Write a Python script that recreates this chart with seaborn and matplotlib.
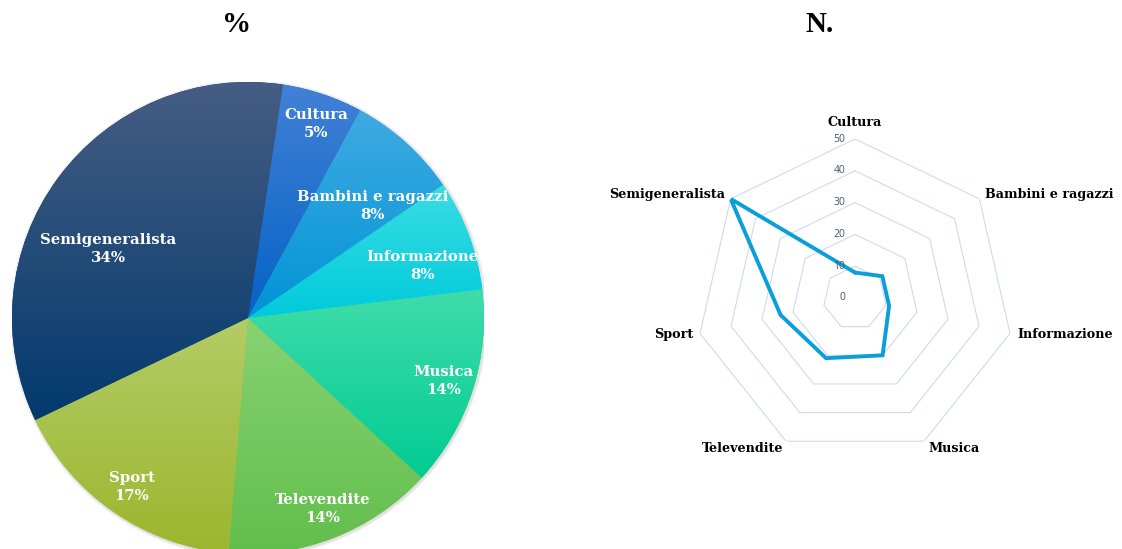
import matplotlib
matplotlib.use("Agg")
import matplotlib.pyplot as plt
import matplotlib.colors as mcolors
import numpy as np
import seaborn as sns

# data
categories = ["Cultura", "Bambini e ragazzi", "Informazione", "Musica",
              "Televendite", "Sport", "Semigeneralista"]
counts = [8, 11, 11, 20, 21, 24, 50]
pct_labels = ["5%", "8%", "8%", "14%", "14%", "17%", "34%"]
radar_ticks = [0, 10, 20, 30, 40, 50]

# gradient colours for each slice (top, bottom)
slice_colors = [("#4281d6", "#0462c6"),
                ("#40aae2", "#0094d6"),
                ("#3adde2", "#00cadc"),
                ("#40dcaa", "#00cc92"),
                ("#88d272", "#62be4c"),
                ("#b4cc66", "#9cb62e"),
                ("#465d84", "#023a6d")]

sns.set_theme(style="white")
plt.rcParams["font.family"] = ["DejaVu Serif", "DejaVu Sans"]
plt.rcParams["text.color"] = "black"

W, H = 1122, 549
fig = plt.figure(figsize=(W / 100, H / 100), dpi=100)

# ---------- pie ----------
cx, cy, R = 248, 318, 236
ax1 = fig.add_axes([(cx - R) / W, (H - cy - R) / H, 2 * R / W, 2 * R / H])
wedges, _ = ax1.pie(counts, startangle=81.5, counterclock=False,
                    colors=[c[1] for c in slice_colors], radius=1,
                    wedgeprops=dict(linewidth=0))
ax1.axis("off")

# soft shadow around the pie
for k, a in [(1.012, 0.05), (1.006, 0.07)]:
    ax1.add_patch(plt.Circle((0.004, -0.004), k, color="black", alpha=a,
                             zorder=0, lw=0))

for w, (ctop, cbot) in zip(wedges, slice_colors):
    ext = w.get_path().get_extents()
    grad = np.linspace(0, 1, 256)[:, None]
    cmap = mcolors.LinearSegmentedColormap.from_list("g", [cbot, ctop])
    im = ax1.imshow(grad, cmap=cmap, origin="lower", aspect="auto",
                    extent=[ext.x0, ext.x1, ext.y0, ext.y1], zorder=2)
    im.set_clip_path(w)
ax1.set_xlim(-1, 1)
ax1.set_ylim(-1, 1)
ax1.set_aspect("equal")

# label placement: radius fraction and angular nudge (deg, clockwise)
lab_r = [0.87, 0.71, 0.77, 0.87, 0.87, 0.87, 0.66]
lab_nudge = [1, 6, 4, 0, 0, 0, -10]
for w, name, pct, r, nd in zip(wedges, categories, pct_labels, lab_r, lab_nudge):
    mid = np.deg2rad((w.theta1 + w.theta2) / 2 - nd)
    ax1.text(r * np.cos(mid), r * np.sin(mid), f"{name}\n{pct}",
             ha="center", va="center", color="white", fontsize=10.7,
             fontweight="bold", linespacing=1.35, zorder=5)

fig.text(237 / W, 1 - 25 / H, "%", ha="center", va="center",
         fontsize=21, fontweight="bold", family="Liberation Serif")

# ---------- radar ----------
rx, ry, rr = 855, 298, 159
ax2 = fig.add_axes([(rx - rr) / W, (H - ry - rr) / H, 2 * rr / W, 2 * rr / H],
                   projection="polar")
ax2.set_theta_offset(np.pi / 2)
ax2.set_theta_direction(-1)
ax2.set_ylim(0, 50)
ax2.grid(False)
ax2.spines["polar"].set_visible(False)
ax2.set_xticks([])
ax2.set_yticks([])
ax2.patch.set_alpha(0)

n = len(categories)
ang = np.linspace(0, 2 * np.pi, n, endpoint=False)
ang_c = np.append(ang, ang[0])

for t in radar_ticks[1:]:
    ax2.plot(ang_c, [t] * (n + 1), color="#cadcf2", lw=0.8, zorder=1)

vals = counts + counts[:1]
ax2.plot(ang_c, vals, color="#0a9fd8", lw=2.8, solid_joinstyle="miter", zorder=3)

for t in radar_ticks:
    ax2.annotate(str(t), xy=(0, t), xytext=(-7, 0), textcoords="offset points",
                 ha="right", va="center", fontsize=7.5, color="#44546a",
                 family="Open Sans", annotation_clip=False)

lab_off = [(0, 7, "center", "bottom"), (4, 3, "left", "center"),
           (5, -1, "left", "center"), (3, -5, "left", "center"),
           (-2, -5, "right", "center"), (-5, -1, "right", "center"),
           (-4, 3, "right", "center")]
for a, name, (dx, dy, ha, va) in zip(ang, categories, lab_off):
    ax2.annotate(name, xy=(a, 50), xytext=(dx, dy), textcoords="offset points",
                 ha=ha, va=va, fontsize=9.2, fontweight="bold", color="black",
                 annotation_clip=False)

fig.text(820 / W, 1 - 25 / H, "N.", ha="center", va="center",
         fontsize=21, fontweight="bold", family="Liberation Serif")

fig.savefig("out.png", dpi=100)
